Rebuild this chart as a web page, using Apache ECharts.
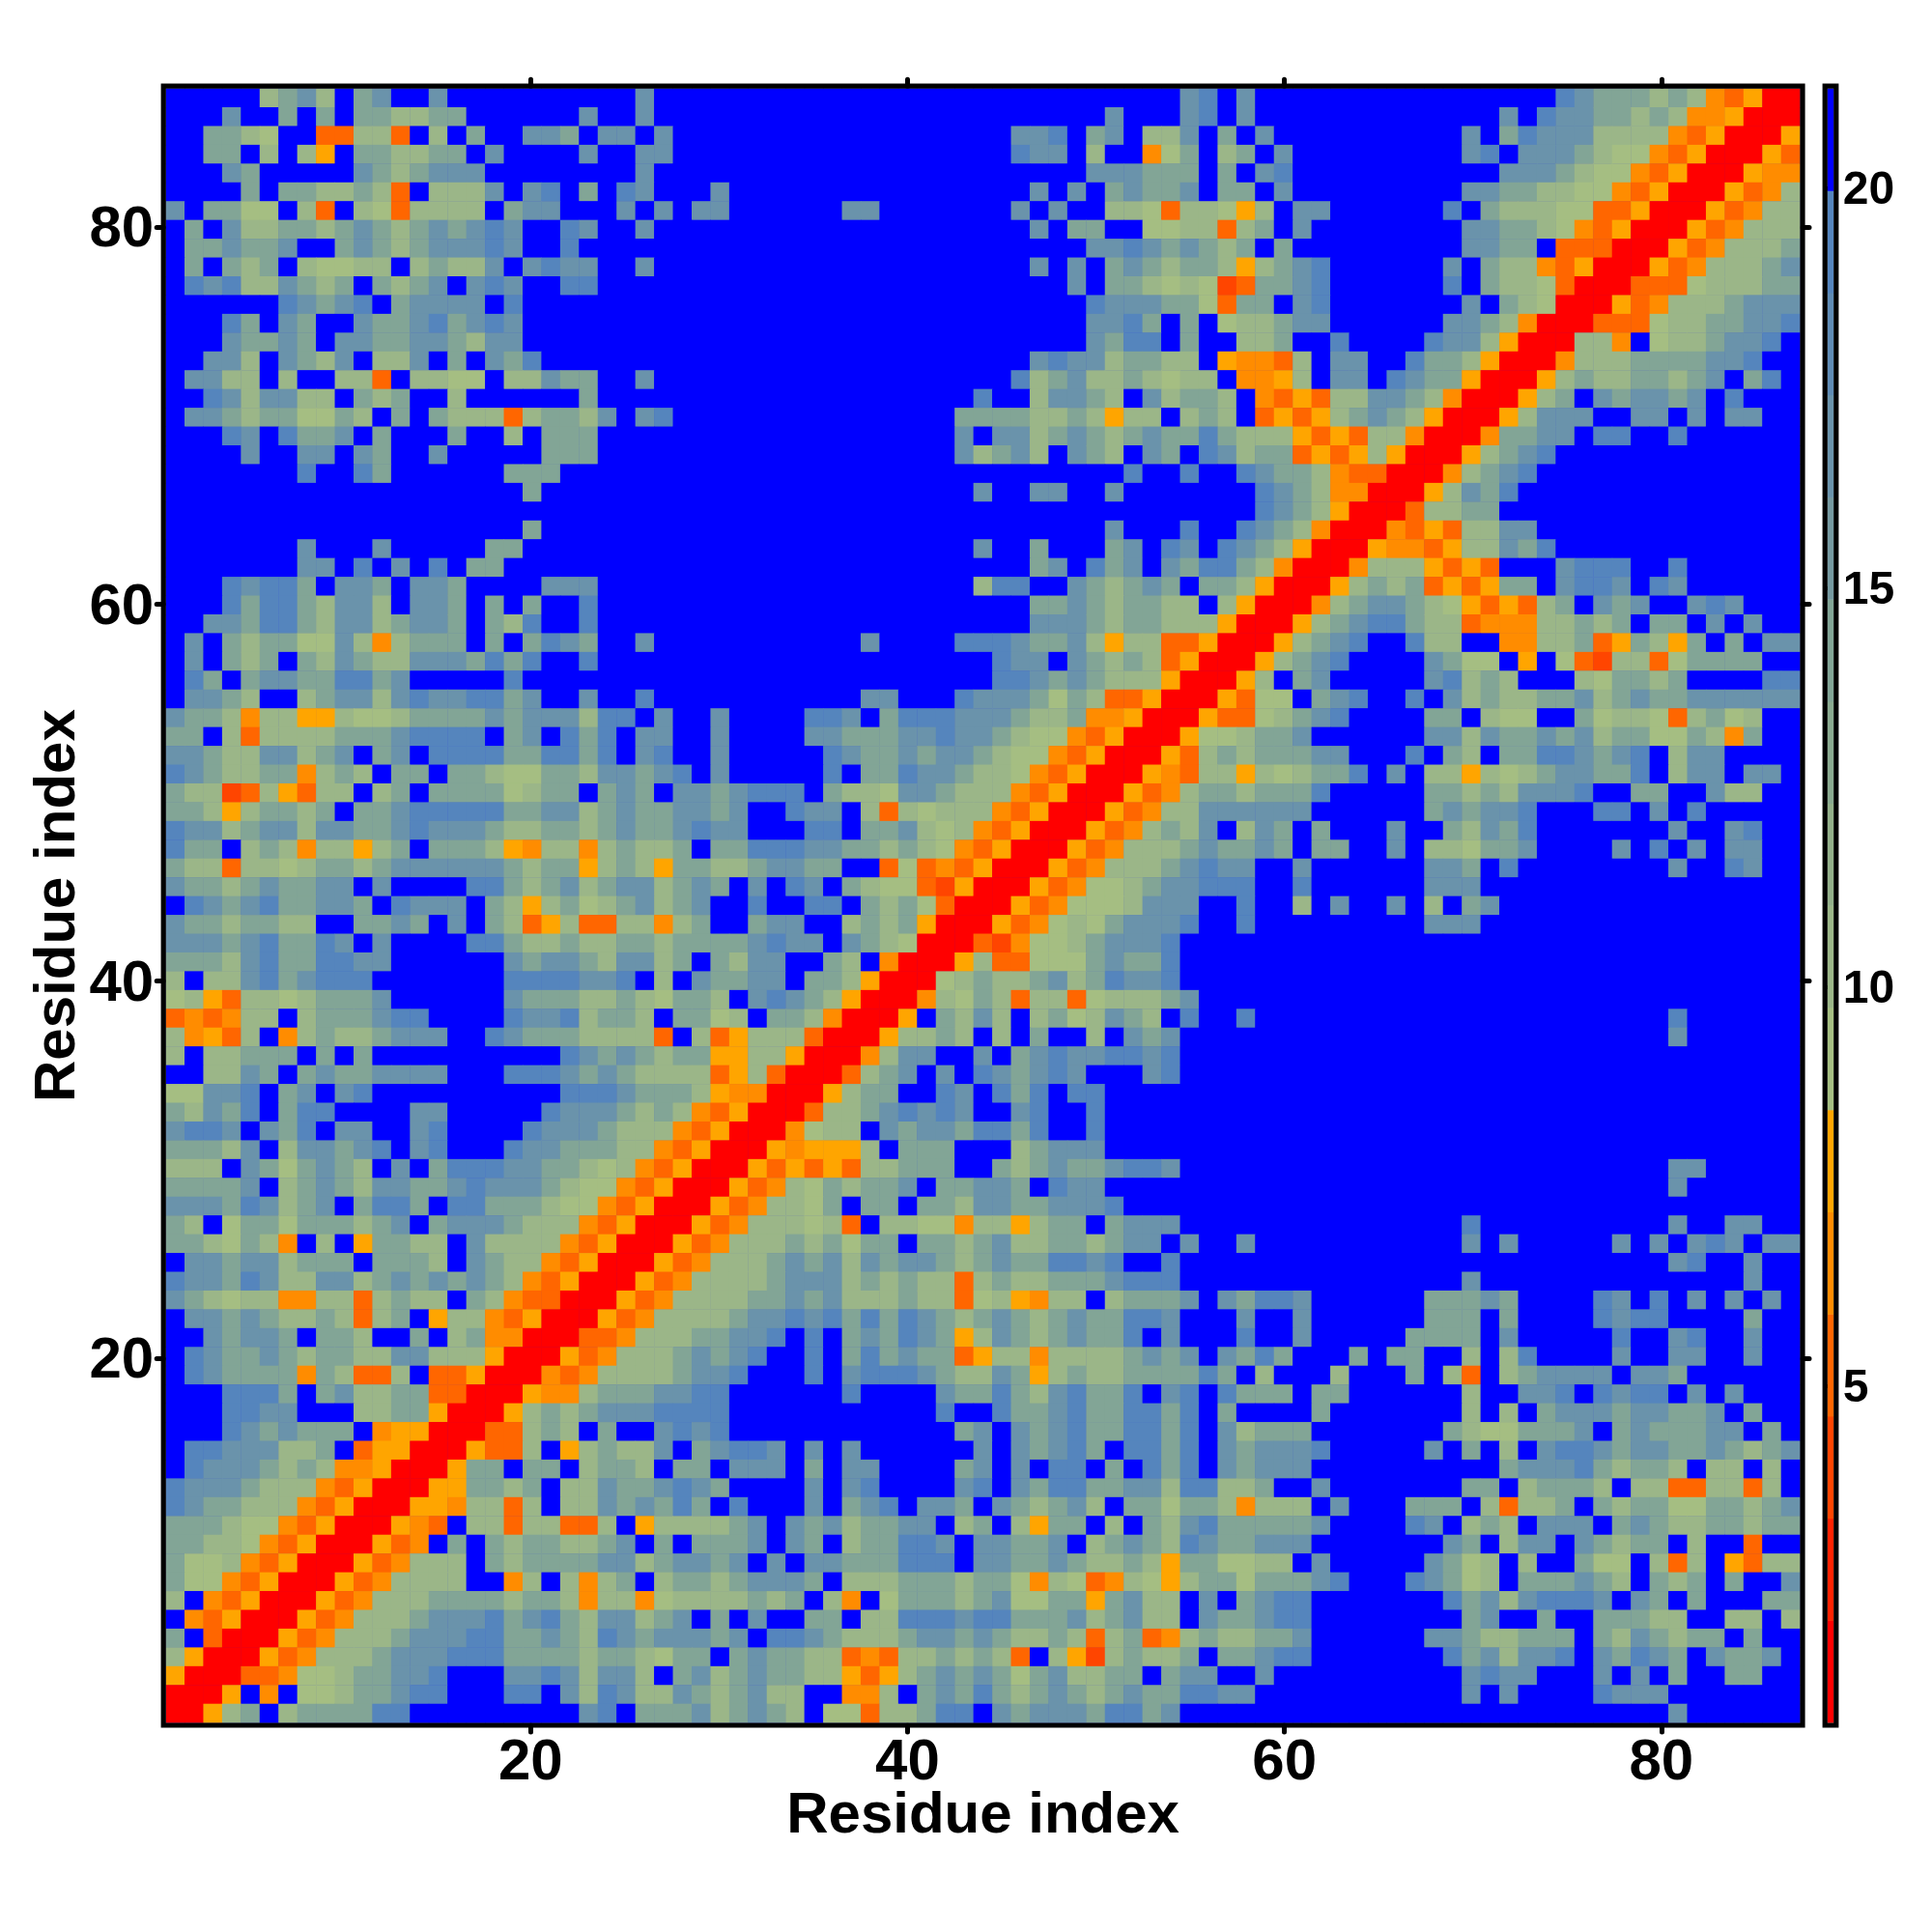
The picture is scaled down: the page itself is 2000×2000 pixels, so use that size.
<!DOCTYPE html>
<html>
<head>
<meta charset="utf-8">
<style>html,body{margin:0;padding:0;background:#fff}#c{width:2000px;height:2000px}</style>
<script src="https://cdn.jsdelivr.net/npm/echarts@6/dist/echarts.min.js"></script>
</head>
<body>
<div id="c"></div>
<script>
// Cell classes; each row runs residue 1..87, first row = residue 87.
const rowsTop = [
".....hijh.ij..j..........j... .........................jk.j ................kjiiihihpoqrr",
"...j..i.i.iihhii......j..j... .....................j...jk.j .............j.kjjiihihppqrrr",
"..iihg..oohho.h.i..jji.jj.j.. ................jjk.ij.hhj.i. j..........j.ikjjjhhhhpoqrrrq",
"..ii.h.hq.iihhii.j....j..jj.. ................kjj.h..pgi.hi .j.........jk.jjjihggpoqrrrqo",
"...ji.....jihijjj........j... ....................jjjiii.i. jk...........jjjihggpoqrrrqpp",
"....i.iihhiho.hhhj.jk.i.kj... j................j.j.ijiij.ii .j.........jjiihhggpoqrrrqoph",
"j.iigg.ho.hgohhhh.ijj...j.j.j j......jj.......j.j..hhgohhgq h.jj......k.ihhhggooqrrrqophh",
".i.jhhiihijihijijkj..kj..j... .................j.ii..gghhoh i.j........jjiihgpoqrrrqophhh",
".iijiij..ijihijjjkj..k....... ....................jjkjijihi .i.........jjii.ooorrrqophhhi",
".i.ihi.hgghh.hihhj.jkjj..j... .................j.j.ijihiihq hijk......j.ihhpoqrrrqophhhij",
".kjkhhjihi.ihij.jkj..kk...... ...................j.iihghgxo iijk......k.ihhgorrroooghhhii",
"......kjijk.ijjjj.k.......... ....................kjjjiigoi i.jk.......j.ihgrrrqophhhijjj",
"...ki.ji..jiijkijkj.......... ....................jjki.i.gh hijj......jjihprrroooghhiijjk",
"...jiiji.jjiijjihjj.......... ....................jikk.i..h hi..k....kjjhqrrrhhp.ghhijjk.",
"..jjh.jihj.hhj.i.jik......... .................jkjjhiihh.qp poh.jj..kiihqrrrphhhiiiijjk..",
".jjhh.h..hho.hhgg.hhjii..j... ................khijhhihghh.p pqh.jj.kjiiqrrrqhihhiihij.ik.",
"..kjhjjhh.ihi..h......i...... ..............k..hjjih.jhiih. poqohhjjihprrrqhi.jijjij.k...",
".jjihiiggih.i.ihhhohiihj.jk.. .............iiiihhihqhh.hih. oqoqhijihqrrrqhjjj..jj.j.jj..",
"...kj.kiij.i...i..h.iii...... .............j.jjhijihijiikih hhqoqohhprrrpiijj.kk..k......",
"....j..jj.ji..j.....iii...... .............jhijh.jih.ji.kjh iioqoqhqrrrqhijk.............",
".......k..ki......iii........ ......................k..k..k jiihpoorrrphijk..............",
"...................i......... ..............j..jj..j....... kjihpprrrqhjik...............",
"............................. ............................. kjihqrrrohhii................",
"...................i......... .....................j...k..k jihprrrpoqohhjj..............",
".......j...j.....ii.......... ..............j..i...ij.kj.kj ihqrrrqppoqhhjik.............",
".......jj.k.j.k.ii........... .................ij.kij.jikki hprrrphhhqoqo...jkkk..k......",
"...kjkki.jji.jji....jjj...... ..............hkk..jihiji.iih qrrrqhihioqoqii.jkkj.kj......",
"...kikkihjjh.jji.i.i..k...... .................iijihiihh.hq rrrphijjihgqoqohi.jij..jkj...",
"..jjikkihjjhijji.ihk..k...... .................jjjihiihhhqr rrqhijkkihhoppphhihi.ii.j.j.."
];
const rowsMiddle = [
".j.ihiiggjhphiii.i.ikji..j... ........j....kkkjiijhqhhooqrr rqhijk..khh..pphhioqihqi.i.jj",
".j.ihi.ihjihhjjjikik..k...... ...............kjj.jihihoqrrr qhijk....jigg.q.goxhhogiiii..",
".ki.ijjiikkij.....k.......... ...............kkjijihhhqrrrq h.ij.....jkhih...hgiihi....kk",
".jjih..hijjhjkjjkkij..j..k... ........jj...kjjjigihooqrrrqo gg.ijk..k.jhihhiijhijiijjjjjj",
"jiihphhqqhgghiiiijijjjhkk.j.. j....kkj.ikkkjjjihhippqrrrqoo ghijk....ii.hgg..ighhgohigh..",
"ii.hohhhhiiijkkkk.ij.kik.jj.. j....jjiiijjkjjihggpoqrrrqggh iij......jjhjiijijhiiggihpi..",
"jjihhjjhij.ij.kkkkiikkik.jk.. j.....kjiijijjihggpoqrrrqohih iiijj...k.ih.iikkjijk.hjj....",
"kjihhiiphih.ii.iihggiihjjijk. j.....k.iikjjihhgpoqrrrqpohhq hghiik.j.hhqhghijjiik.hjj.jj.",
"ihhxohqohh.hi.iiiighii.iji.jj ijkkk.ihhgjjihhhpoqrrrqophiih iiik.....iihihjjjk..ii..jhh..",
"iihqhiihi.iijkkkkkiijjhijiijj ij..kjj.hohghhhpoqrrrqophhjjj jjj......ijijjk...kk.j.k.....",
"kjjhijjhjjiijkjjjihhiihijiijk jj...kk.iijhghpoqrrrqophihj.h ji.i...j..ihjik.......j..jk..",
"kii.hihphhqhi.iiihqphhphihhi. iikkkjjiihihgpoqrrrqophhhijii ji.ii..j.hhgiij....j.k.j.jj..",
"ihhohhghiihijjjjjjihiiqhihqii hhijjii..ogopoqrrrqophhhijkjj ..j......jji.k........j..kj..",
"jiihijiijj.j....kkihijhijjhij i.j.kj.ihggoxqrrrqopgghijjkkk ..k......jjj.................",
".kjijkiijji.kjjj.ihqhighijhij ..k..kk.ihigorrrqopggghjjj..k ..h.j..j.h.ij................",
"jiihiihh..iiji.j.ihoqhoohhphi ..ijj..hihiqrrrqopghgijjjk..k .........jjj.................",
"jjjijkiikj.j....kkihhihhiihii iijkjj.jihgrrroxpgghijjjk.... .............................",
"iiihjkiikkjj......jijjihjjhi. ihjj..ih.prrrqhoogggijiik.... .............................",
"h.hhjkijkkk.......kkkkjjk.h.j iijj.iihqrrrghihhijhikjjk.... .............................",
"ghqohhghiiij......jiiihhihgii h.jkjihqrrrphgihohhoghhhij... .............................",
"opophh.hiiijkk....kjjkhiih.ii gh.iihprrrq.ihjh.highjih.k..k ......................k......",
"hpqoh.phihhijjj..kjiiihhhho.h oqhhhorrrqhhih.h.i..h.jij.... ......................j......",
"h.hhiii.i.i..........kjijihii qqhhqrrrphjj..j.ijkjjkkjk.... .............................",
"..hhji.ijiijjjj...kkkjijihhhh oqhorrrohij.j.kjijkj...jk.... .............................",
"ggjjk.ij.jk..........kkkjiiih qpprrrqhii..kj.kik.kk........ .............................",
"ihjik.ikk....jj.....kjjjihihp oqrrrohhijkjkj..jk..k........ .............................",
"jkkj.jik.jj..jk....kjjjihhhpo qrrrpghh.jijjikkik..k........ .............................",
"iiihj.hjjijk.jk...kjjiiihhpoq rrrqpqqqh.iii...hijjj........ .............................",
"hhh.jigijih.j.ikkkjjiihghpoqr rrqoqoqohhiii..ihijiijkkj.... ......................jj....."
];
const rowsBottom = [
"iiiij.hijihjjiijkjjjihggpoqrr rqophgihiij.iijji.kjj........ ......................j......",
"jjjikjhij.ikki.kkiiihggpoqrrr qophhgi.ii.iihjjiijjjk....... .............................",
"ih.giigiiihij.ijjjihhhpoqrrrq ophhhgho.hhggphhqhii.ijjj.... ...........k..........j..jj..",
"iihgihp.h.qiihh.jhhhhpoqrrrqo phhhihigii.iihijhhiihijj.j..j ...........j.j.....j.j.jkj.jj",
".jjijjhiii.iiih.jihhpoqrrrqop hhhijijhjijjihijiikkjk..k.... ......................jk..j..",
"kjjikjhhjjhijijijihpoqrrrqoph hhhijjjhihihhohihhiiijkkk.... ...........j..............j..",
"jihghhpphhohihh.ihpoorrrqophh hhiijijhhhihhoghqphh.hiiij.ji kkj......iiiji....kj.k.j.j.j.",
".jjijihhihohi.qhhpoqrrrqophhh hijjkjkikikjihijihijiikkj...j ..j......iii.i....kjkk....i..",
"..jijji.iih..i.hipprrroophhhi ijjk.k.ijikjiqhjihijiik.j...k ..j.....iiii.j.....k..jk..j..",
".kjiijihiihhjjhhhqrrrqophhhij ijk..k.ikijiioqhhphhhhijij.ji ki...i.ii..h.hk....j..jj..j..",
".kjiiiipihooh.ooqrrrpophhhhij jk...k.jkkkjihhjiqhihhiiiiki. h...h...i.ho.hijjjj.jji......",
"...kkki.ijhhiioorrrqpphiiijjk k......k....jiikihjkiik.jk.ki ii.ii......h..jjk.kjkk.j.j...",
"...kkjj...hhiiqrrrqhihijjjkkk k...........k..kiijkiikkik.i. ...i.......h.h.ijjjijjiij.i..",
"...kjijiii.pqqrrroohih.i..jkj k............ij.jijkiikkik.jh iii.......ihggiiij.ijiiijj.i.",
".kkjjjhhi.oqqrrrqooh.qhihhj.i jkkj.j.j......j.jijki.kkik.ji jjjk.....j.i.h.jkkjijjiijihij",
".kjjjihihppqrrrqii.ii.hiih.ii .jjj.i.jj....ij.j.kk.i.kik.ji jjj..........ijjjkihiih.hh.h.",
"kjjjihhhpoqrrrqqiihi.hhjiijkj i....j.jk....jk.jikkiijjhkkhh i..j.......ii.hiiih.hhoohhoh.",
"kjiihhhpoqrrrqqphhoh.hhjijiki .k...j.ijk.jji.jihijh.iigiihp hhh.j...iii.hohhi.ihiiggiihij",
"iiihggpoqrrrqpo.hhohhooh.qhhh hij.jijhiijj.hi.hqii.h.ihjkii iiij....kj.hih.jjj.ijihhiihii",
"iihhgpoqrrrqop.i.ihiihhij.i.i iij.ji.hiikkj.jjiij.hijihkjii jjj.......ji.hjj.jihii.h..o..",
"igghpoqrrrqophhh.ihiiiijjhijj ij.j.jjiiikkk.jjiijihhihqiigg hh.j.....jigh.h..igg.hoh.qohh",
"iggpoqrrrqophhhh..ph.hphi.hii hijjji.hhhiiihiigphgophgqhiig iiijk...kjigh.iiijih.ihi.i..j",
"h.poqrrrqophhhiiiihiihphhpghh hhihi.hp.giiihijggiiqijhh.j.i jkk.......kijhjkkkj.ji.i...ii",
".poqrrrqophhhijjjkijkihjjhij. i.j..ii.hhkkkjkkiiijhijhh.jii jkk........ij..i..iiihh..hh.h",
"i.orrrqophhhijjjkkiijihkjijjj ij.kkjihhhijjijihhihohiophihh iij......jjihhiii.ihjihii.i..",
"hqrrrqophhhijjjkkkiiiihiihgii .ijiihhopohhihiho.hqxhihhi.ii jkk.......kijhjjk.jikji.jiij.",
"qrrroopgghiijjk...jjkjhjjh.ij hijiihhqoqhijijigijhhii.ijj.. j..........jkjj...j.j.i..ii..",
"rrrq.p.gghiijkk...kk.jhkjhhji hijhh..pph.ijikihijihijiikkjj ...........j.j....kjjj.......",
"rrqhi.hiiiikk.........jk.iiij hijih.ggohhikk.jijjjikkij.... ......................j......"
];
// Representative distance for each cell class
const classValues = {r:1.42,x:3.97,o:5.25,p:6.52,q:7.8,g:9.08,h:10.35,i:14.19,j:16.74,k:19.29,'.':20.57};
const bandColors = ['#FF0000','#FF2200','#FF4500','#FF6600','#FF8C00','#FFA500','#A5BE82','#9BB688','#93B08A','#8AAA90','#82A596','#7599A0','#6A93AB','#5F8BB4','#5585BD','#0000FF'];
const bandStart = 0.78, bandStep = 1.277;
const residueTicks = [20,40,60,80];
const barTicks = [5,10,15,20];
const axisTitle = 'Residue index';

const FONT = '"Liberation Sans", Arial, sans-serif';
const cells = [];
[...rowsTop, ...rowsMiddle, ...rowsBottom].forEach((line, r) => {
  const s = line.replace(/ /g, '');
  for (let c = 0; c < 87; c++) cells.push([c, 86 - r, classValues[s[c] || '.']]);
});
const residues = Array.from({length: 87}, (_, i) => String(i + 1));
const bandIdx = bandColors.map((_, i) => String(i));
const barCells = bandColors.map((_, i) => [0, i, bandStart + bandStep * (i + 0.5)]);
const pieces = bandColors.map((color, i) => ({
  min: bandStart + bandStep * i, max: bandStart + bandStep * (i + 1), color
}));

const hiddenCat = (type, gridIndex, data) => ({type: 'category', gridIndex, data, show: false, boundaryGap: true});
const tickStyle = {show: true, length: 7, inside: false, customValues: residueTicks,
  lineStyle: {color: '#000', width: 5, cap: 'round'}};
const frameStyle = {show: true, backgroundColor: 'transparent', borderColor: '#000', borderWidth: 5.2, z: 5, outerBoundsMode: 'none'};
const labelStyle = {fontFamily: FONT, fontWeight: 'bold', fontSize: 60, color: '#000', customValues: residueTicks};
const nameStyle = {fontFamily: FONT, fontWeight: 'bold', fontSize: 60, color: '#000'};
const RMIN = 0.52, RMAX = 87.49;

const option = {
  animation: false,
  backgroundColor: '#fff',
  grid: [
    {left: 171.8, top: 91.8, width: 1691.6, height: 1691.6, show: true, backgroundColor: '#0000FF', borderWidth: 0, outerBoundsMode: 'none'},
    Object.assign({left: 169.2, top: 89.2, width: 1696.8, height: 1696.8}, frameStyle),
    {left: 1891.7, top: 91.8, width: 6.6, height: 1691.6, show: false, outerBoundsMode: 'none'},
    Object.assign({left: 1889.2, top: 89.2, width: 11.6, height: 1696.8}, frameStyle)
  ],
  xAxis: [
    hiddenCat('x', 0, residues),
    {type: 'value', gridIndex: 1, position: 'bottom', min: RMIN, max: RMAX, splitLine: {show: false},
      axisLine: {show: false}, axisTick: tickStyle,
      axisLabel: Object.assign({show: true, margin: 9}, labelStyle),
      name: axisTitle, nameLocation: 'middle', nameGap: 64.5, nameMoveOverlap: false, nameTextStyle: nameStyle},
    {type: 'value', gridIndex: 1, position: 'top', min: RMIN, max: RMAX, splitLine: {show: false},
      axisLine: {show: false}, axisTick: tickStyle, axisLabel: {show: false}},
    hiddenCat('x', 2, ['band']),
    {type: 'value', gridIndex: 3, min: 0, max: 1, show: false}
  ],
  yAxis: [
    hiddenCat('y', 0, residues),
    {type: 'value', gridIndex: 1, position: 'left', min: RMIN, max: RMAX, splitLine: {show: false},
      axisLine: {show: false}, axisTick: tickStyle,
      axisLabel: Object.assign({show: true, margin: 10, verticalAlign: 'top', lineHeight: 7}, labelStyle),
      name: axisTitle, nameLocation: 'middle', nameRotate: 90, nameGap: 78.5, nameMoveOverlap: false, nameTextStyle: nameStyle},
    {type: 'value', gridIndex: 1, position: 'right', min: RMIN, max: RMAX, splitLine: {show: false},
      axisLine: {show: false}, axisTick: tickStyle, axisLabel: {show: false}},
    hiddenCat('y', 2, bandIdx),
    {type: 'value', gridIndex: 3, position: 'right', min: 0.756, max: 21.28, splitLine: {show: false},
      axisLine: {show: false},
      axisTick: {show: true, length: 5, customValues: barTicks, lineStyle: {color: '#000', width: 4, cap: 'round'}},
      axisLabel: {show: true, margin: 7, verticalAlign: 'top', lineHeight: 6, fontFamily: FONT, fontWeight: 'bold', fontSize: 48, color: '#000', customValues: barTicks}}
  ],
  visualMap: {type: 'piecewise', show: false, dimension: 2, seriesIndex: [0, 1], pieces},
  series: [
    {type: 'heatmap', xAxisIndex: 0, yAxisIndex: 0, data: cells, progressive: 0, itemStyle: {borderWidth: 0}, emphasis: {disabled: true}},
    {type: 'heatmap', xAxisIndex: 3, yAxisIndex: 3, data: barCells, progressive: 0, itemStyle: {borderWidth: 0}, emphasis: {disabled: true}}
  ]
};
echarts.init(document.getElementById('c'), null, {renderer: 'canvas', width: 2000, height: 2000}).setOption(option);
</script>
</body>
</html>
